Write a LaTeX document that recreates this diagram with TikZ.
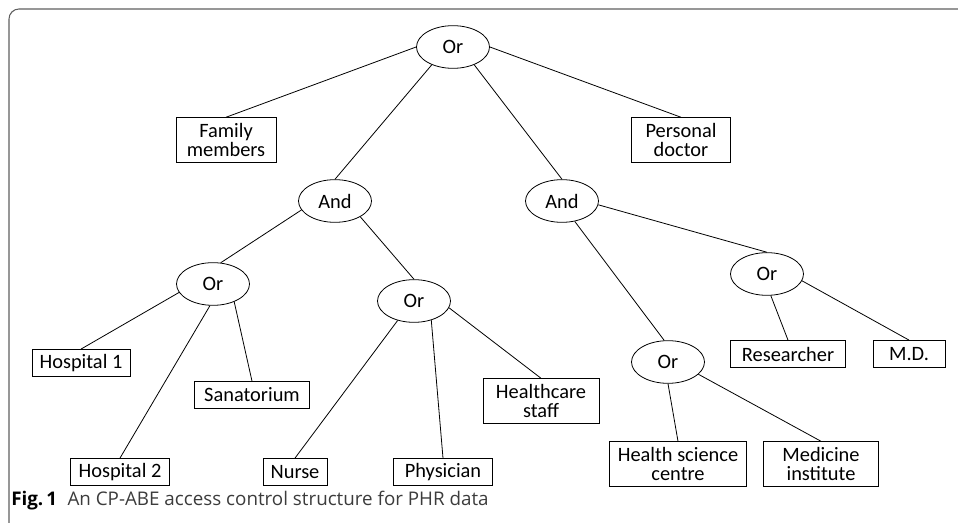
\documentclass[tikz,border=0pt]{standalone}
\usepackage{fontspec}
\setmainfont{Carlito}
\newfontfamily\captionfont{Open Sans}
\usepackage{xcolor}
\definecolor{framegray}{RGB}{95,95,95}
\definecolor{captiongray}{RGB}{60,60,60}
\usetikzlibrary{shapes.geometric}

\begin{document}
\begin{tikzpicture}[
      x=0.75pt, y=-0.75pt,
      gate/.style={ellipse, draw, line width=0.6pt, inner sep=0pt,
                  minimum width=54.75pt, minimum height=32pt,
                  font=\fontsize{15.3}{14}\selectfont},
      leaf/.style={rectangle, draw, line width=0.6pt, align=center,
                  inner sep=0pt, minimum height=20.25pt,
                  font=\fontsize{15.3}{14}\selectfont},
      tall/.style={minimum height=33.5pt},
      edge/.style={line width=0.6pt}
    ]
    \useasboundingbox (0,0) rectangle (958,523);
    \draw[framegray, line width=0.8pt, rounded corners=7.5pt] (9,9) rectangle (980,535);

    \node[gate] (or1) at (453,47) {Or};
    \node[leaf, tall, minimum width=75pt] (fam) at (226,140) {Family\\members};
    \node[leaf, tall, minimum width=74.25pt] (doc) at (681,140) {Personal\\doctor};
    \node[gate] (and1) at (335,201) {And};
    \node[gate] (and2) at (562,201) {And};
    \node[gate] (orA) at (213,284) {Or};
    \node[gate] (orB) at (414,301) {Or};
    \node[gate] (orD) at (767,274) {Or};
    \node[gate] (orC) at (668,362) {Or};
    \node[leaf, minimum width=73.5pt] (hosp1) at (81,363) {Hospital 1};
    \node[leaf, minimum width=86.25pt] (sana) at (252,395) {Sanatorium};
    \node[leaf, minimum width=74.25pt] (hosp2) at (120,472) {Hospital 2};
    \node[leaf, minimum width=48pt] (nurse) at (295,472) {Nurse};
    \node[leaf, minimum width=74.25pt] (phys) at (443,472) {Physician};
    \node[leaf, tall, minimum width=87pt] (staff) at (541,401) {Healthcare\\staff};
    \node[leaf, minimum width=86.25pt] (res) at (788,354) {Researcher};
    \node[leaf, minimum width=54pt] (md) at (909,354) {M.D.};
    \node[leaf, tall, minimum width=102.75pt] (hsc) at (678,464) {Health science\\centre};
    \node[leaf, tall, minimum width=86.25pt] (med) at (821,464) {Medicine\\institute};

    \node[anchor=base west, inner sep=0pt, font=\captionfont\fontsize{14.1}{16}\selectfont]
      (cap) at (11,506) {\textbf{Fig.\,1}\hspace{0.55em}\textcolor{captiongray}{An CP-ABE access control structure for PHR data}};

    \draw[edge] (or1.west) -- (fam.north);
    \draw[edge] (or1.east) -- (doc.north);
    \draw[edge] (or1.220) -- (and1.north);
    \draw[edge] (or1.320) -- (and2.north);
    \draw[edge] (and1.195) -- (orA.70);
    \draw[edge] (and1.328) -- (orB.north);
    \draw[edge] (orA.194) -- (hosp1.north);
    \draw[edge] (orA.262) -- (hosp2.north);
    \draw[edge] (orA.320) -- (sana.north);
    \draw[edge] (orB.230) -- (nurse.north);
    \draw[edge] (orB.312) -- (phys.north);
    \draw[edge] (orB.349) -- (staff.north);
    \draw[edge] (and2.354) -- (orD.north);
    \draw[edge] (and2.302) -- (orC.100);
    \draw[edge] (orD.280) -- (res.north);
    \draw[edge] (orD.349) -- (md.north);
    \draw[edge] (orC.south) -- (hsc.north);
    \draw[edge] (orC.338) -- (med.north);
  \end{tikzpicture}
\end{document}
